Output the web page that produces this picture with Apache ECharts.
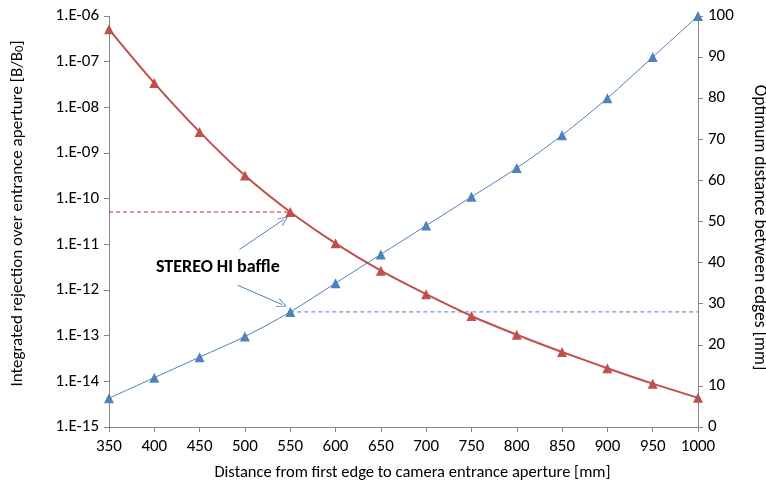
<!DOCTYPE html>
<html>
<head>
<meta charset="utf-8">
<script src="https://cdn.jsdelivr.net/npm/echarts@6/dist/echarts.min.js"></script>
<style>
  html, body { margin: 0; padding: 0; background: #fff; }
  #chart { width: 766px; height: 495px; }
</style>
</head>
<body>
<div id="chart"></div>
<script>
// distances [mm]
const distance = [350, 400, 450, 500, 550, 600, 650, 700, 750, 800, 850, 900, 950, 1000];
// integrated rejection [B/B0] (left, log)
const rejection = [5.1e-7, 3.4e-8, 2.9e-9, 3.2e-10, 5.1e-11, 1.05e-11, 2.65e-12, 8.1e-13,
  2.7e-13, 1.05e-13, 4.4e-14, 1.94e-14, 8.9e-15, 4.35e-15];
// optimum distance between edges [mm] (right)
const optimum = [7, 12, 17, 22, 28, 35, 42, 49, 56, 63, 71, 80, 90, 100];

// STEREO HI baffle reference lines
const baffleRejection = [[350, 5.1e-11], [550, 5.1e-11]];
const baffleOptimum = [[550, 28], [1000, 28]];
// annotation arrows (right-axis coords): [from, to]
const arrows = [
  [[494, 43.2], [543, 50.5]],
  [[492, 34.5], [541, 29.8]]
];

const font = 'Carlito, Lato, sans-serif';
const axisGrey = '#868686';
const red = '#C0504D';
const blue = '#4F81BD';

const chart = echarts.init(document.getElementById('chart'));

const fmtExp = v => {
  const e = Math.round(Math.log10(v));
  const a = Math.abs(e);
  return '1.E' + (e < 0 ? '-' : '+') + (a < 10 ? '0' + a : a);
};

chart.setOption({
  animation: false,
  textStyle: { fontFamily: font },
  grid: { left: 109, right: 68, top: 16, bottom: 68, outerBoundsMode: 'none', containLabel: false },
  xAxis: {
    type: 'value', min: 350, max: 1000, interval: 50,
    name: 'Distance from first edge to camera entrance aperture [mm]',
    nameLocation: 'middle', nameGap: 37,
    nameTextStyle: { fontSize: 16.5, color: '#000', fontFamily: font, padding: [0, 0, 0, 18] },
    axisLine: { lineStyle: { color: axisGrey } },
    axisTick: { show: true, length: 5, lineStyle: { color: axisGrey } },
    axisLabel: { fontSize: 17, color: '#000', margin: 11, fontFamily: font, formatter: v => String(v) },
    splitLine: { show: false }
  },
  yAxis: [
    {
      type: 'log', logBase: 10, min: 1e-15, max: 1e-6,
      name: 'Integrated rejection over entrance aperture [B/B{sub|0}]',
      nameLocation: 'middle', nameGap: 83, nameRotate: 90,
      nameTextStyle: {
        fontSize: 17, color: '#000', fontFamily: font, padding: [0, 0, 0, 16],
        rich: { sub: { fontSize: 12.5, color: '#000', fontFamily: font, padding: [4, 0, 0, 0] } }
      },
      axisLine: { show: true, lineStyle: { color: axisGrey } },
      axisTick: { show: true, length: 5, lineStyle: { color: axisGrey } },
      axisLabel: { fontSize: 17, color: '#000', margin: 10, formatter: fmtExp, fontFamily: font },
      minorTick: { show: false },
      splitLine: { show: false }
    },
    {
      type: 'value', min: 0, max: 100, interval: 10, position: 'right',
      name: 'Optimum distance between edges [mm]',
      nameLocation: 'middle', nameGap: 52, nameRotate: -90,
      nameTextStyle: { fontSize: 17.5, color: '#000', fontFamily: font, padding: [0, 0, 0, 12] },
      axisLine: { show: true, lineStyle: { color: axisGrey } },
      axisTick: { show: true, length: 5, lineStyle: { color: axisGrey } },
      axisLabel: { fontSize: 17, color: '#000', margin: 10, fontFamily: font },
      splitLine: { show: false }
    }
  ],
  graphic: [{
    type: 'text', left: 156, top: 258,
    style: { text: 'STEREO HI baffle', font: 'bold 18px ' + font, fill: '#000' }
  }],
  series: [
    {
      type: 'line', name: 'rejection', yAxisIndex: 0,
      data: distance.map((d, i) => [d, rejection[i]]),
      smooth: 0.3,
      symbol: 'triangle', symbolSize: 10,
      itemStyle: { color: red },
      lineStyle: { color: red, width: 2 },
      z: 3
    },
    {
      type: 'line', name: 'optimum', yAxisIndex: 1,
      data: distance.map((d, i) => [d, optimum[i]]),
      smooth: 0.3,
      symbol: 'triangle', symbolSize: 10,
      itemStyle: { color: blue },
      lineStyle: { color: blue, width: 1 },
      markLine: {
        silent: true,
        symbol: ['none', 'path://M0,0 L5,9 L4.2,9.5 L0,1.8 L-4.2,9.5 L-5,9 Z'],
        symbolSize: [9, 10],
        label: { show: false },
        lineStyle: { color: blue, width: 1, type: 'solid' },
        itemStyle: { color: blue },
        data: arrows.map(a => [{ coord: a[0] }, { coord: a[1] }])
      },
      z: 3
    },
    {
      type: 'line', yAxisIndex: 0, data: baffleRejection,
      symbol: 'none', lineStyle: { color: '#E02020', width: 1, type: [4, 3] }, z: 2
    },
    {
      type: 'line', yAxisIndex: 1, data: baffleOptimum,
      symbol: 'none', lineStyle: { color: blue, width: 1, type: [4, 3] }, z: 2
    }
  ]
});
</script>
</body>
</html>
